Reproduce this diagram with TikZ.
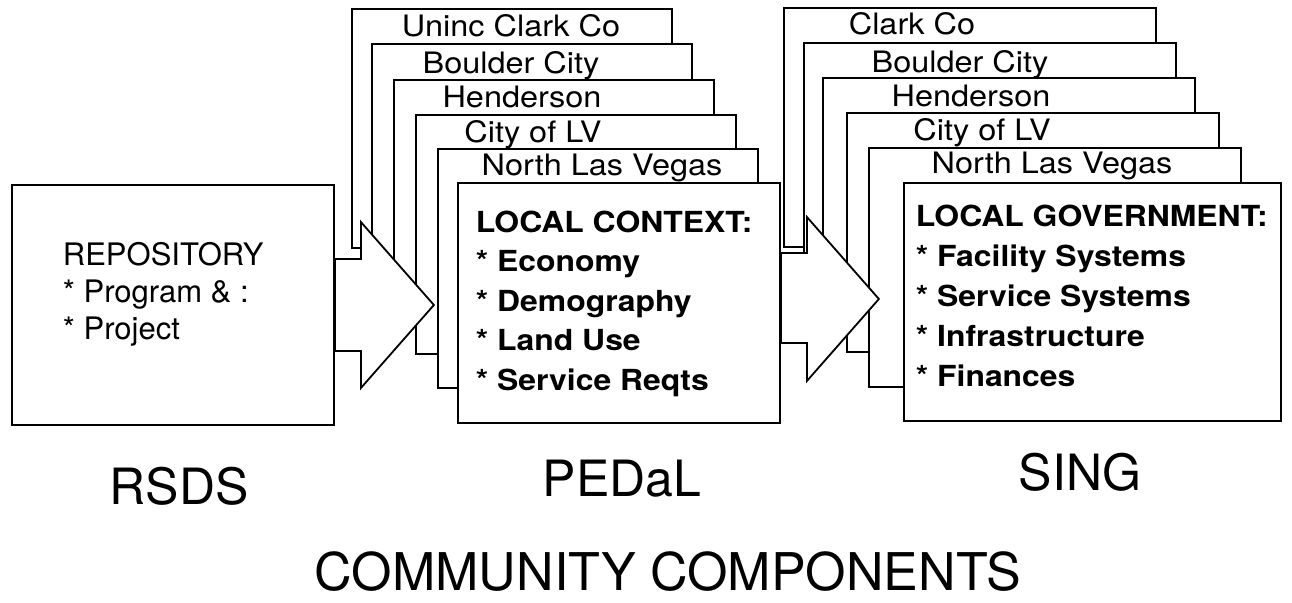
\documentclass[tikz,border=0pt]{standalone}
\usepackage{fontspec}
\setmainfont{TeX Gyre Heros}
\newfontfamily\widefont{TeX Gyre Heros}[FakeStretch=1.1]
\usetikzlibrary{calc}
\begin{document}
\begin{tikzpicture}[
        x=1pt, y=-1pt,
        line width=1.8pt,
        card/.style={draw, fill=white},
        panel/.style={draw, fill=white, inner sep=0pt},
        blockarrow/.style={draw, fill=white, line join=miter},
        cardlabel/.style={anchor=base, inner sep=0pt, font=\widefont\fontsize{29.5}{30}\selectfont},
        itemlist/.style={anchor=north west, inner sep=0pt, align=left},
        caption/.style={anchor=base, inner sep=0pt, font=\fontsize{50}{50}\selectfont},
    ]
    \useasboundingbox (0,0) rectangle (1292,602);

    \node[panel, minimum width=322pt, minimum height=240pt](rsds) at (173,305) {};
    \node[itemlist, font=\fontsize{31}{37}\selectfont](repo) at (62,241) {REPOSITORY\\* Program \& :\\* Project};

    \foreach \lab/\x/\y/\tx/\by [count=\i] in {Uninc Clark Co/352/9/511/37, Boulder City/372/44/511/74,
            Henderson/394/80/522/107, City of LV/416/115/533/142, North Las Vegas/438/149/602/175} {
        \draw[card] (\x,\y) rectangle ++(320,239);
        \node[cardlabel](ped\i) at (\tx,\by) {\lab};
    }
    \node[panel, minimum width=322pt, minimum height=240pt](pedal) at (619,303) {};
    \node[itemlist, font=\widefont\bfseries\fontsize{29}{39.5}\selectfont](pedaltext) at (475,210)
        {LOCAL CONTEXT:\\* Economy\\* Demography\\* Land Use\\* Service Reqts};

    \foreach \lab/\x/\y/\tx/\by [count=\i] in {Clark Co/784/8/912/35, Boulder City/804/43/960/73,
            Henderson/823/78/971/106, City of LV/847/113/982/140, North Las Vegas/869/148/1052/173} {
        \draw[card] (\x,\y) rectangle ++(372,239);
        \node[cardlabel](sing\i) at (\tx,\by) {\lab};
    }
    \node[panel, minimum width=377pt, minimum height=238pt](sing) at (1092.5,302) {};
    \node[itemlist, font=\widefont\bfseries\fontsize{29}{40}\selectfont](singtext) at (915,204)
        {LOCAL GOVERNMENT:\\* Facility Systems\\* Service Systems\\* Infrastructure\\* Finances};

    \draw[blockarrow] ($(rsds.east)+(0,-46)$) -- ++(26,0) -- ++(0,-37) -- ++(73,83)
        -- ++(-73,83) -- ++(0,-37) -- ++(-26,0) -- cycle;
    \draw[blockarrow] ($(pedal.east)+(0,-50)$) -- ++(26,0) -- ++(0,-36) -- ++(72,82)
        -- ++(-72,82) -- ++(0,-38) -- ++(-26,0) -- cycle;

    \node[caption](rsdscap) at (179,504) {RSDS};
    \node[caption](pedalcap) at (622,496) {PEDaL};
    \node[caption](singcap) at (1080,490) {SING};
    \node[caption, font=\fontsize{52}{52}\selectfont](title) at (668,590) {COMMUNITY COMPONENTS};
\end{tikzpicture}
\end{document}
